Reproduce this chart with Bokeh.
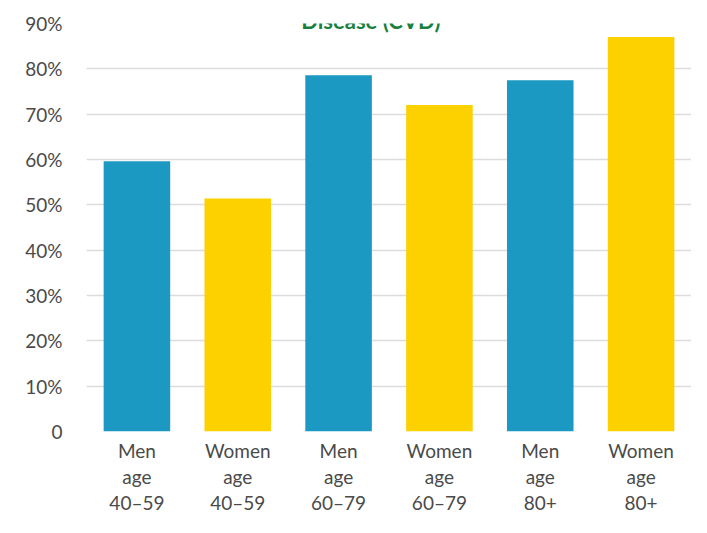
from bokeh.plotting import figure
from bokeh.models import FactorRange, FixedTicker, Label
from bokeh.embed import file_html
from bokeh.resources import INLINE

categories = ["Men\nage\n40–59", "Women\nage\n40–59", "Men\nage\n60–79",
              "Women\nage\n60–79", "Men\nage\n80+", "Women\nage\n80+"]
values = [59.6, 51.4, 78.6, 72.0, 77.5, 87.0]
bar_colors = ["#1b99c2", "#fdd000", "#1b99c2", "#fdd000", "#1b99c2", "#fdd000"]
y_ticks = [0, 10, 20, 30, 40, 50, 60, 70, 80, 90]
y_labels = ["0", "10%", "20%", "30%", "40%", "50%", "60%", "70%", "80%", "90%"]
title_text = "Disease (CVD)"

font = "Lato"
p = figure(width=691, height=517, output_backend="svg", toolbar_location=None,
           x_range=FactorRange(*categories, range_padding=0), y_range=(0, 90),
           min_border_left=86, min_border_right=0, min_border_top=23, min_border_bottom=86)
p.outline_line_color = None
p.background_fill_color = "white"

p.vbar(x=categories, top=values, width=0.66, color=bar_colors, line_color=None)

p.xgrid.grid_line_color = None
p.ygrid.grid_line_color = "#dcdcdc"
p.ygrid.grid_line_width = 1.5
p.ygrid.level = "underlay"

p.yaxis.ticker = FixedTicker(ticks=y_ticks)
p.yaxis.major_label_overrides = {t: l for t, l in zip(y_ticks, y_labels)}
for ax in (p.xaxis[0], p.yaxis[0]):
    ax.axis_line_color = None
    ax.major_tick_line_color = None
    ax.minor_tick_line_color = None
    ax.major_tick_out = 0
    ax.major_tick_in = 0
    ax.axis_label_standoff = 0
    ax.major_label_text_font = font
    ax.major_label_text_font_size = "19px"
    ax.major_label_text_color = "#4a4a4a"
p.yaxis.major_label_standoff = 24
p.xaxis.major_label_standoff = 7
p.xaxis.major_label_text_line_height = 1.15

p.add_layout(Label(x=2.82, y=90.7, text=title_text,
                   text_font=font, text_font_style="bold", text_font_size="22px",
                   text_color="#17803d", text_align="center", text_baseline="alphabetic"))

open("out.html", "w").write(file_html(p, INLINE))
